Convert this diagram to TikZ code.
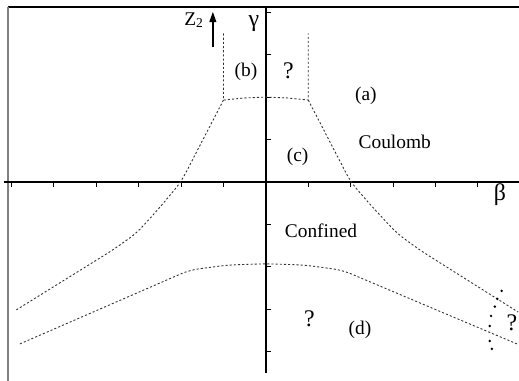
\documentclass[tikz,border=0pt]{standalone}
\usepackage{fontspec}
\setmainfont{Liberation Serif}
\usetikzlibrary{arrows.meta}
\definecolor{framegray}{HTML}{808080}
\definecolor{dashgray}{HTML}{333333}

\begin{document}
\begin{tikzpicture}[
    font=\fontsize{13}{15}\selectfont,
    axis/.style={line width=1pt, draw=black},
    tickmark/.style={line width=0.7pt},
    phase/.style={draw=dashgray, line width=0.6pt, dash pattern=on 1.4pt off 1.4pt, rounded corners=6pt},
    lbl/.style={inner sep=0pt, anchor=base},
    greek/.style={inner sep=0pt, anchor=base, font=\fontsize{16}{18}\selectfont},
    qmark/.style={inner sep=0pt, anchor=base, font=\fontsize{16}{18}\selectfont},
    arrow/.style={-{Triangle[length=2.4mm, width=1.6mm]}, line width=0.9pt}
  ]
    \useasboundingbox (-6.27,-4.69) rectangle (5.97,4.29);
    \draw[line width=1.3pt] (-6.08,4.13) -- (5.97,4.13);
    \draw[line width=1.3pt, framegray] (-6.08,4.13) -- (-6.08,-4.69);
    \draw[axis] (-6.18,0) -- (5.97,0);
    \draw[axis] (0,4.13) -- (0,-4.5);
    \foreach \i in {-6,...,5} \draw[tickmark] (\i,0) -- (\i,-0.12);
    \foreach \j in {-4,-3,-2,-1,1,2,3,4} \draw[tickmark] (0,\j) -- (0.12,\j);

    % phase boundaries
    \draw[phase, rounded corners=0pt] (-1,3.5) -- (-1,1.93) -- (-0.5,1.98) -- (0,2) -- (0.5,1.98) -- (1,1.93) -- (1,3.5);
    \draw[phase] (-1,1.93) -- (-2,0) -- (-2.5,-0.6) -- (-3.04,-1.2) -- (-3.6,-1.6) -- (-5.92,-3.04);
    \draw[phase] (1,1.93) -- (2,0) -- (2.5,-0.58) -- (3.1,-1.22) -- (3.65,-1.62) -- (5.95,-3.07);
    \draw[phase] (-5.8,-3.82) -- (-1.8,-2.08) -- (-0.9,-1.96) -- (0,-1.93) -- (0.9,-1.96) -- (1.8,-2.08) -- (5.92,-3.82);
    \foreach \p in {(5.56,-2.57),(5.46,-2.76),(5.40,-2.94),(5.31,-3.16),(5.28,-3.40),(5.28,-3.75),(5.33,-3.94)}
      \fill \p circle (0.032);

    \coordinate (zlow) at (-1.25,3.18);
    \coordinate (zhigh) at (-1.25,4.01);
    \draw[arrow] (zlow) -- (zhigh);
    \node[inner sep=0pt, anchor=base west] (ztwo) at (-1.93,3.70) {Z\textsubscript{2}};
    \node[greek] (gamma) at (-0.28,3.66) {γ};
    \node[greek] (beta) at (5.52,-0.45) {β};
    \node[lbl] (regb) at (-0.47,2.48) {(b)};
    \node[qmark] (qtop) at (0.53,2.43) {?};
    \node[lbl] (rega) at (2.36,1.93) {(a)};
    \node[lbl] (coulomb) at (3.04,0.78) {Coulomb};
    \node[lbl] (regc) at (0.75,0.47) {(c)};
    \node[lbl] (confined) at (1.30,-1.32) {Confined};
    \node[qmark] (qlow) at (1.03,-3.40) {?};
    \node[lbl] (regd) at (2.22,-3.61) {(d)};
    \node[qmark] (qright) at (5.80,-3.51) {?};
  \end{tikzpicture}
\end{document}
